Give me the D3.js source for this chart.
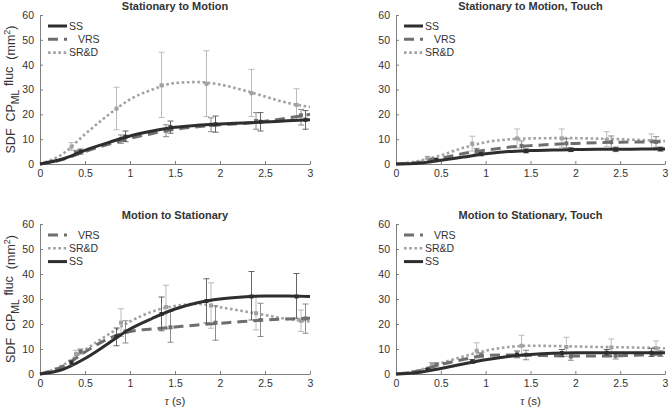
<!DOCTYPE html>
<html>
<head>
<meta charset="utf-8">
<script src="https://cdn.jsdelivr.net/npm/d3@7"></script>
<style>
  body { margin: 0; background: #fff; }
  text { font-family: Arial, "Liberation Sans", sans-serif; fill: #333; }
</style>
</head>
<body>
<script>
// time grid for the smoothed curves (s)
const tGrid = [0, 0.25, 0.5, 0.75, 1, 1.25, 1.5, 1.75, 2, 2.25, 2.5, 2.75, 3];

const titles = ["Stationary to Motion", "Stationary to Motion, Touch",
                "Motion to Stationary", "Motion to Stationary, Touch"];
const legendTop = ["SS", "VRS", "SR&D"];
const legendBottom = ["VRS", "SR&D", "SS"];
const xTicks = [0, 0.5, 1, 1.5, 2, 2.5, 3];
const yTicks = [0, 10, 20, 30, 40, 50, 60];

// panel 1: stationary to motion
const p1SS  = [0, 2, 5.5, 8.5, 11.3, 13.3, 14.8, 15.6, 16.1, 16.5, 16.9, 17.4, 17.8];
const p1VRS = [0, 1.8, 5, 7.8, 10.3, 12.3, 14, 15, 15.8, 16.3, 17.2, 18.5, 20];
const p1SRD = [0, 4, 12, 19.5, 26, 30, 32.6, 33, 32, 29.8, 27.2, 24.6, 23];
// error bars: [t, mean, low, high]
const p1ebSS  = [[0.45, 5, 4, 6], [0.95, 11, 9, 13.3], [1.45, 14.8, 12.4, 17.3], [1.95, 16, 12.8, 19.3], [2.45, 17, 13.3, 20.7], [2.95, 17.8, 14, 21.5]];
const p1ebVRS = [[0.4, 4.5, 3.5, 5.5], [0.9, 10, 8.3, 11.7], [1.4, 13.5, 11, 15.8], [1.9, 15.8, 13, 18.6], [2.4, 17.3, 14, 20.7], [2.9, 19.6, 15.7, 22]];
const p1ebSRD = [[0.35, 7, 5.5, 8.6], [0.85, 22.3, 13.8, 30.9], [1.35, 31.7, 18.7, 45], [1.85, 32.3, 19.1, 45.6], [2.35, 28.5, 19.1, 38.1], [2.85, 23.8, 17.5, 30.3]];

// panel 2: stationary to motion, touch
const p2SS  = [0, 0.3, 1.5, 2.8, 4.1, 5, 5.4, 5.6, 5.8, 5.9, 5.9, 6, 6];
const p2VRS = [0, 0.6, 2.3, 4.2, 5.6, 6.7, 7.4, 7.9, 8.3, 8.6, 8.8, 8.9, 9];
const p2SRD = [0, 1.2, 3.5, 6.5, 8.8, 9.9, 10.3, 10.4, 10.4, 10.2, 10, 9.6, 9.2];
const p2ebSS  = [[0.45, 1.7, 1.3, 2.1], [0.95, 4, 3.3, 4.7], [1.45, 5.2, 4.5, 6.1], [1.95, 5.7, 5, 6.5], [2.45, 5.9, 5, 6.8], [2.95, 6, 5.2, 6.8]];
const p2ebVRS = [[0.4, 1.8, 1.4, 2.2], [0.9, 5.3, 4.3, 6.3], [1.4, 7.3, 5.5, 9.3], [1.9, 8.3, 6.5, 10.2], [2.4, 8.8, 6.3, 11.3], [2.9, 8.9, 6.7, 11]];
const p2ebSRD = [[0.35, 2.5, 2, 3], [0.85, 8.2, 5.2, 11.2], [1.35, 10.3, 6.5, 14.1], [1.85, 10.3, 6.7, 14.1], [2.35, 9.7, 7, 13], [2.85, 9.2, 6.3, 12.1]];

// panel 3: motion to stationary
const p3SS  = [0, 1.8, 6.2, 12, 18, 22.3, 26, 28.5, 30, 30.8, 31.2, 31.2, 31];
const p3VRS = [0, 3, 8.8, 14, 17, 18, 18.8, 19.6, 20.3, 21, 21.6, 22, 22.3];
const p3SRD = [0, 3.5, 9.6, 15.6, 21, 25, 27.2, 28, 26.7, 25.2, 23.6, 22, 21];
const p3ebSS  = [[0.35, 4.5, 3.5, 5.5], [0.85, 15, 11.3, 18.4], [1.35, 24, 17.3, 30.8], [1.85, 29.2, 20.4, 38.1], [2.35, 31, 21.6, 41], [2.85, 31, 22.3, 40.2]];
const p3ebVRS = [[0.45, 9, 8, 10], [0.95, 17, 12.4, 21.3], [1.45, 18.7, 12.7, 25], [1.95, 20.5, 13.5, 27.3], [2.45, 21.6, 15, 28.3], [2.95, 22.2, 16.3, 28]];
const p3ebSRD = [[0.4, 8, 6.5, 9.5], [0.9, 20.5, 15, 26.1], [1.4, 26.8, 18, 35.5], [1.9, 27.4, 18.3, 36.5], [2.4, 24.3, 17.6, 30.9], [2.9, 21.3, 17, 25.6]];

// panel 4: motion to stationary, touch
const p4SS  = [0, 0.6, 2.2, 4, 5.7, 7, 7.8, 8.3, 8.5, 8.5, 8.5, 8.5, 8.5];
const p4VRS = [0, 1.2, 3.8, 5.8, 7.4, 7.6, 7.5, 7.3, 7.2, 7.2, 7.3, 7.6, 8.2];
const p4SRD = [0, 1.5, 4.3, 7, 9.3, 10.8, 11.3, 11.2, 11, 10.8, 10.7, 10.5, 10.3];
const p4ebSS  = [[0.35, 1.8, 1.4, 2.2], [0.85, 5, 4.2, 5.8], [1.35, 7.8, 6.5, 9.2], [1.85, 8.4, 7, 9.8], [2.35, 8.5, 7.5, 9.8], [2.85, 8.5, 7, 10.3]];
const p4ebVRS = [[0.45, 3.8, 3.2, 4.4], [0.95, 7.5, 6.5, 8.5], [1.45, 7.7, 5.7, 9.5], [1.95, 7, 5.5, 8.6], [2.45, 7.3, 6, 8.7], [2.95, 8, 7, 9.3]];
const p4ebSRD = [[0.4, 3.8, 3, 4.6], [0.9, 9.3, 6, 12.5], [1.4, 11.3, 7.5, 15.5], [1.9, 10.8, 7, 14.7], [2.4, 10.6, 7, 14], [2.9, 10.3, 7.5, 13.2]];

const style = {
  "SS":   { color: "#2e2e2e", width: 3,   dash: null,      eb: "#555", dx: 0 },
  "VRS":  { color: "#6e6e6e", width: 3,   dash: "10,6",    eb: "#808080", dx: 9 },
  "SR&D": { color: "#a2a2a2", width: 2.6, dash: "2.6,2.6", eb: "#b4b4b4", dx: 0 }
};

const panels = [
  { title: titles[0], box: [40, 310, 15, 164], legend: legendTop, ylab: true, xlab: false,
    series: { "SS": [p1SS, p1ebSS], "VRS": [p1VRS, p1ebVRS], "SR&D": [p1SRD, p1ebSRD] } },
  { title: titles[1], box: [396, 665, 15, 164], legend: legendTop, ylab: false, xlab: false,
    series: { "SS": [p2SS, p2ebSS], "VRS": [p2VRS, p2ebVRS], "SR&D": [p2SRD, p2ebSRD] } },
  { title: titles[2], box: [40, 310, 224, 374], legend: legendBottom, ylab: true, xlab: true,
    series: { "SS": [p3SS, p3ebSS], "VRS": [p3VRS, p3ebVRS], "SR&D": [p3SRD, p3ebSRD] } },
  { title: titles[3], box: [396, 665, 224, 374], legend: legendBottom, ylab: false, xlab: true,
    series: { "SS": [p4SS, p4ebSS], "VRS": [p4VRS, p4ebVRS], "SR&D": [p4SRD, p4ebSRD] } }
];

const svg = d3.select("body").append("svg").attr("width", 669).attr("height", 408);

panels.forEach(p => {
  const [x0, x1, y0, y1] = p.box;
  const x = d3.scaleLinear().domain([0, 3]).range([x0, x1]);
  const y = d3.scaleLinear().domain([0, 60]).range([y1, y0]);
  const g = svg.append("g");

  // axes, ticks pointing inward like matlab
  const xa = g.append("g").attr("transform", `translate(0,${y1})`)
    .call(d3.axisBottom(x).tickValues(xTicks).tickFormat(d3.format("")).tickSizeInner(-3).tickSizeOuter(0).tickPadding(6));
  const ya = g.append("g").attr("transform", `translate(${x0},0)`)
    .call(d3.axisLeft(y).tickValues(yTicks).tickSizeInner(-3).tickSizeOuter(0).tickPadding(6));
  [xa, ya].forEach(a => {
    a.selectAll("path, line").attr("stroke", "#808080");
    a.selectAll("text").style("font-size", "10.5px").attr("fill", "#333");
  });

  const line = d3.line().x((d, i) => x(tGrid[i])).y(d => y(d)).curve(d3.curveMonotoneX);

  // draw lightest first, SS on top
  ["SR&D", "VRS", "SS"].forEach(name => {
    const s = style[name];
    const [vals, eb] = p.series[name];
    g.append("path").datum(vals)
      .attr("d", line)
      .attr("fill", "none")
      .attr("stroke", s.color)
      .attr("stroke-width", s.width)
      .attr("stroke-dasharray", s.dash);
    const bars = g.append("g").selectAll("g").data(eb).enter().append("g");
    bars.append("line")
      .attr("x1", d => x(d[0])).attr("x2", d => x(d[0]))
      .attr("y1", d => y(d[2])).attr("y2", d => y(d[3]));
    bars.append("line")
      .attr("x1", d => x(d[0]) - 3).attr("x2", d => x(d[0]) + 3)
      .attr("y1", d => y(d[2])).attr("y2", d => y(d[2]));
    bars.append("line")
      .attr("x1", d => x(d[0]) - 3).attr("x2", d => x(d[0]) + 3)
      .attr("y1", d => y(d[3])).attr("y2", d => y(d[3]));
    bars.selectAll("line").attr("stroke", s.eb).attr("stroke-width", 0.9);
    bars.append("rect")
      .attr("x", d => x(d[0]) - 2).attr("y", d => y(d[1]) - 2)
      .attr("width", 4).attr("height", 4)
      .attr("fill", s.color);
  });

  // legend
  p.legend.forEach((name, i) => {
    const s = style[name];
    const ly = y0 + 11 + i * 13.3;
    g.append("line")
      .attr("x1", x0 + 8).attr("x2", x0 + 27).attr("y1", ly).attr("y2", ly)
      .attr("stroke", s.color).attr("stroke-width", s.width)
      .attr("stroke-dasharray", s.dash);
    g.append("text").attr("x", x0 + 29 + s.dx).attr("y", ly + 3.5)
      .style("font-size", "10.5px").text(name);
  });

  g.append("text")
    .attr("x", (x0 + x1) / 2).attr("y", y0 - 5)
    .attr("text-anchor", "middle")
    .style("font-size", "11px").style("font-weight", "bold")
    .text(p.title);

  if (p.xlab) {
    const t = g.append("text")
      .attr("x", (x0 + x1) / 2).attr("y", y1 + 31)
      .attr("text-anchor", "middle")
      .style("font-size", "11.5px");
    t.append("tspan").style("font-style", "italic").style("font-family", "'Times New Roman', 'Liberation Serif', serif").text("τ");
    t.append("tspan").text(" (s)");
  }

  if (p.ylab) {
    const t = g.append("text")
      .attr("transform", `translate(15,${(y0 + y1) / 2}) rotate(-90)`)
      .attr("text-anchor", "middle")
      .style("white-space", "pre")
      .style("font-size", "12.5px");
    t.append("tspan").text("SDF  CP");
    t.append("tspan").attr("dy", 4).style("font-size", "10.5px").text("ML");
    t.append("tspan").attr("dy", -6).text(" fluc");
    t.append("tspan").attr("dy", 2).text("  (mm");
    t.append("tspan").attr("dy", -5).style("font-size", "9px").text("2");
    t.append("tspan").attr("dy", 5).text(")");
  }
});
</script>
</body>
</html>
